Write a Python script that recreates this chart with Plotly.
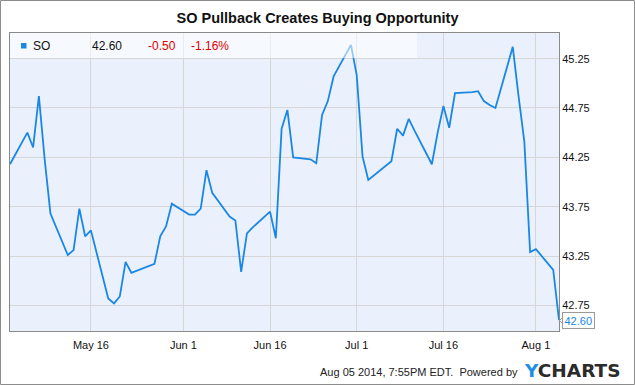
import plotly.graph_objects as go

# ---- data ----
dates = [
    "2014-05-02", "2014-05-05", "2014-05-06", "2014-05-07", "2014-05-08", "2014-05-09",
    "2014-05-12", "2014-05-13", "2014-05-14", "2014-05-15", "2014-05-16",
    "2014-05-19", "2014-05-20", "2014-05-21", "2014-05-22", "2014-05-23",
    "2014-05-27", "2014-05-28", "2014-05-29", "2014-05-30",
    "2014-06-02", "2014-06-03", "2014-06-04", "2014-06-05", "2014-06-06",
    "2014-06-09", "2014-06-10", "2014-06-11", "2014-06-12", "2014-06-13",
    "2014-06-16", "2014-06-17", "2014-06-18", "2014-06-19", "2014-06-20",
    "2014-06-23", "2014-06-24", "2014-06-25", "2014-06-26", "2014-06-27",
    "2014-06-30", "2014-07-01", "2014-07-02", "2014-07-03",
    "2014-07-07", "2014-07-08", "2014-07-09", "2014-07-10", "2014-07-11",
    "2014-07-14", "2014-07-15", "2014-07-16", "2014-07-17", "2014-07-18",
    "2014-07-21", "2014-07-22", "2014-07-23", "2014-07-24", "2014-07-25",
    "2014-07-28", "2014-07-29", "2014-07-30", "2014-07-31", "2014-08-01",
    "2014-08-04", "2014-08-05",
]
prices = [
    44.18, 44.50, 44.35, 44.87, 44.23, 43.68,
    43.26, 43.31, 43.73, 43.45, 43.51,
    42.82, 42.77, 42.84, 43.19, 43.08,
    43.17, 43.45, 43.55, 43.78,
    43.67, 43.67, 43.73, 44.12, 43.89,
    43.65, 43.61, 43.09, 43.48, 43.54,
    43.70, 43.43, 44.54, 44.73, 44.25,
    44.23, 44.19, 44.68, 44.82, 45.07,
    45.39, 45.08, 44.26, 44.02,
    44.21, 44.54, 44.47, 44.64, 44.52,
    44.18, 44.50, 44.77, 44.55, 44.90,
    44.91, 44.92, 44.82, 44.78, 44.75,
    45.37, 44.87, 44.41, 43.29, 43.32,
    43.11, 42.60,
]
x_tick_vals = ["2014-05-16", "2014-06-01", "2014-06-16", "2014-07-01", "2014-07-16", "2014-08-01"]
x_tick_text = ["May 16", "Jun 1", "Jun 16", "Jul 1", "Jul 16", "Aug 1"]
y_tick_vals = [42.75, 43.25, 43.75, 44.25, 44.75, 45.25]
y_tick_text = ["42.75", "43.25", "43.75", "44.25", "44.75", "45.25"]

ticker = "SO"
last_price = "42.60"
change = "-0.50"
change_pct = "-1.16%"
title = "SO Pullback Creates Buying Opportunity"
footer = "Aug 05 2014, 7:55PM EDT.  Powered by"

LINE = "#1A87E4"
FONT = "Liberation Sans, Arial, sans-serif"
W, H = 635, 385
ML, MR, MT, MB = 10, 76, 33, 54
PW, PH = W - ML - MR, H - MT - MB


def px(x):
    return (x - ML) / PW


def py(y):
    return (H - MB - y) / PH


fig = go.Figure()
fig.add_trace(go.Scatter(x=dates, y=prices, mode="lines",
                         line=dict(color=LINE, width=1.8), hoverinfo="skip",
                         showlegend=False))

shapes = [
    # legend overlay
    dict(type="rect", xref="paper", yref="paper", x0=0, x1=px(417), y0=py(58), y1=1,
         fillcolor="rgba(255,255,255,0.55)", line=dict(width=0), layer="above"),
    dict(type="rect", xref="paper", yref="paper", x0=px(21), x1=px(26.5), y0=py(48.5), y1=py(43),
         fillcolor=LINE, line=dict(width=0), layer="above"),
    # outer frame
    dict(type="rect", xref="paper", yref="paper", x0=px(0.5), x1=px(634.5), y0=py(384.5), y1=py(0.5),
         fillcolor="rgba(0,0,0,0)", line=dict(color="#8c8c8c", width=1), layer="above"),
    # small pointer of the last-value label
    dict(type="path", xref="paper", yref="paper",
         path="M {a},{b} L {c},{d} L {a},{e}".format(
             a=px(563.5), b=py(316.5), c=px(559.5), d=py(320.5), e=py(324.5)),
         fillcolor="white", line=dict(color="#9a9a9a", width=1), layer="above"),
]

ann = []
legend_items = [(ticker, 31, "#111111"), (last_price, 90, "#111111"),
                (change, 146, "#E00000"), (change_pct, 189, "#E00000")]
for txt, xx, col in legend_items:
    ann.append(dict(text=txt, xref="paper", yref="paper", x=px(xx), y=py(46),
                    xanchor="left", yanchor="middle", showarrow=False,
                    font=dict(family=FONT, size=12, color=col)))

# last value label
ann.append(dict(text=last_price, xref="paper", yref="y", x=px(561.5), y=float(last_price),
                xanchor="left", yanchor="middle", showarrow=False,
                font=dict(family=FONT, size=11, color=LINE),
                bgcolor="white", bordercolor="#9a9a9a", borderwidth=1, borderpad=1.5))
# footer
ann.append(dict(text=footer, xref="paper", yref="paper", x=px(520), y=py(372),
                xanchor="right", yanchor="middle", showarrow=False,
                font=dict(family=FONT, size=11, color="#222222")))
ann.append(dict(text="<b><span style='color:#1E8FE8'>Y</span>CHARTS</b>", xref="paper", yref="paper",
                x=px(522), y=py(370), xanchor="left", yanchor="middle", showarrow=False,
                font=dict(family="DejaVu Sans", size=18.5, color="#2b2b2b")))

fig.update_layout(
    width=W, height=H,
    margin=dict(l=ML, r=MR, t=MT, b=MB, pad=0),
    paper_bgcolor="white",
    plot_bgcolor="#EAF1FC",
    title=dict(text=title, x=0.5, xref="container", xanchor="center",
               y=1 - 18 / H, yref="container", yanchor="middle",
               font=dict(family=FONT, size=14.5, color="#111111", weight="bold")),
    xaxis=dict(type="date", range=["2014-05-02", "2014-08-05"],
               tickvals=x_tick_vals, ticktext=x_tick_text,
               showgrid=True, gridcolor="#D6D6D6", gridwidth=1,
               showline=True, mirror=True, linecolor="#8a8a8a", linewidth=1,
               ticks="", zeroline=False, ticklabelstandoff=4,
               tickfont=dict(family=FONT, size=11, color="#111111")),
    yaxis=dict(side="right", range=[42.49, 45.51],
               tickvals=y_tick_vals, ticktext=y_tick_text,
               showgrid=True, gridcolor="#D6D6D6", gridwidth=1,
               showline=True, mirror=True, linecolor="#8a8a8a", linewidth=1,
               ticks="", zeroline=False,
               tickfont=dict(family=FONT, size=11, color="#111111")),
    shapes=shapes,
    annotations=ann,
)

fig.write_html("out.html", config={"displayModeBar": False},
               post_script="document.body.style.margin='0';document.body.style.overflow='hidden';")
